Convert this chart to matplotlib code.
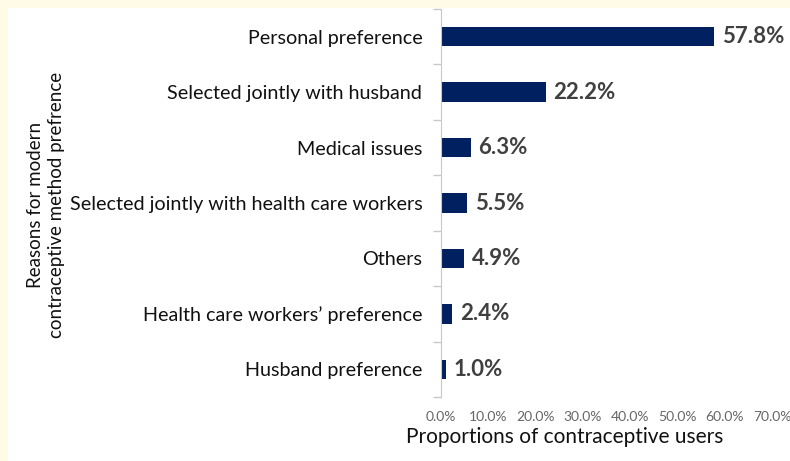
import matplotlib
matplotlib.use("Agg")
import matplotlib.pyplot as plt
from matplotlib.patches import Rectangle
import numpy as np

# data (top to bottom as in the chart)
reasons = ["Personal preference", "Selected jointly with husband", "Medical issues",
           "Selected jointly with health care workers", "Others",
           "Health care workers\u2019 preference", "Husband preference"]
shares = [57.8, 22.2, 6.3, 5.5, 4.9, 2.4, 1.0]
xticks = [0, 10, 20, 30, 40, 50, 60, 70]

plt.rcParams['font.family'] = ['Lato', 'DejaVu Sans']

fig = plt.figure(figsize=(7.9, 4.61), dpi=100)
fig.patch.set_facecolor('#fffbe6')
# white panel inside the cream frame
fig.patches.append(Rectangle((8 / 790, 0), 1, 1 - 8 / 461, transform=fig.transFigure,
                             facecolor='white', edgecolor='none', zorder=-1))

ax = fig.add_axes([441 / 790, 1 - 397 / 461, (772 - 441) / 790, (397 - 9) / 461])
ax.set_facecolor('white')

y = np.arange(len(reasons))
ax.barh(y, shares, height=0.35, color='#002060', zorder=2)
for yi, v in zip(y, shares):
    ax.text(v + 1.6, yi, f"{v:.1f}%", va='center', ha='left', fontsize=16,
            fontweight='bold', color='#404040')

ax.set_ylim(len(reasons) - 0.5, -0.5)
ax.set_xlim(0, 70)
ax.set_yticks(y)
ax.set_yticklabels(reasons, fontsize=14.2, color='#111111')
ax.tick_params(axis='y', which='major', length=0, pad=13.5)
ax.set_yticks(np.arange(len(reasons) + 1) - 0.5, minor=True)
ax.tick_params(axis='y', which='minor', length=6, color='#c8c8c8', width=1)

ax.set_xticks(xticks)
ax.set_xticklabels([f"{t:.1f}%" for t in xticks], fontsize=10, color='#666666')
ax.tick_params(axis='x', length=0, pad=10)

for s in ['top', 'right', 'bottom']:
    ax.spines[s].set_visible(False)
ax.spines['left'].set_color('#c8c8c8')

fig.text(565 / 790, 1 - 437 / 461, "Proportions of contraceptive users",
         ha='center', va='center', fontsize=15, color='#111111')
fig.text(46 / 790, 1 - 205 / 461, "Reasons for modern\ncontraceptive method prefrence",
         rotation=90, ha='center', va='center', fontsize=13.5, color='#111111', linespacing=1.25)

fig.savefig("out.png", dpi=100, facecolor=fig.get_facecolor())
